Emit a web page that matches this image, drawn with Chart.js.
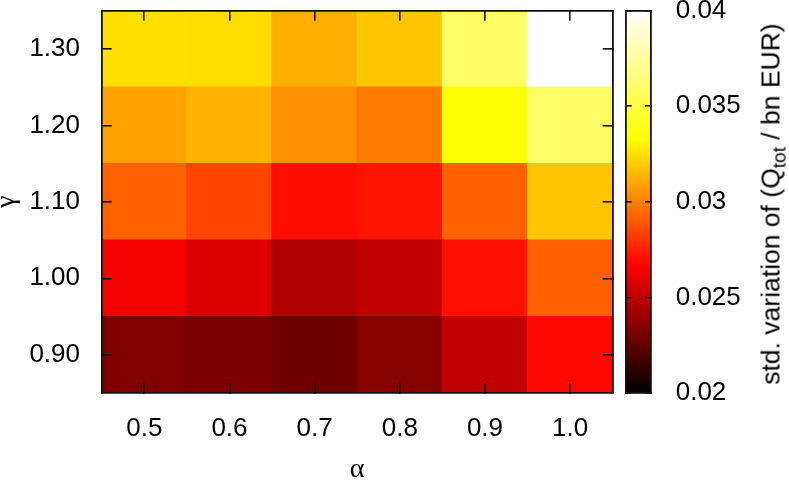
<!DOCTYPE html>
<html lang="en">
<head>
    <meta charset="UTF-8">
    <title>std. variation of Q_tot</title>
    <script src="https://cdn.jsdelivr.net/npm/chart.js"></script>
    <style>
        body {
            margin: 0;
            background: #fff;
            overflow: hidden;
        }
        .wrap {
            position: relative;
            width: 789px;
            height: 481px;
        }
        #heatmap {
            position: absolute;
            left: 0;
            top: 0;
        }
        #colorbar {
            position: absolute;
            left: 600px;
            top: 0;
        }
        .cb-title {
            position: absolute;
            left: 771px;
            top: 204px;
            font: 26.5px "Liberation Sans", Arial, sans-serif;
            color: #000;
            white-space: nowrap;
            transform: translate(-50%, -50%) rotate(-90deg);
        }
        .cb-title sub {
            font-size: 0.72em;
            line-height: 0;
        }
    </style>
</head>
<body>
    <div class="wrap">
        <canvas id="heatmap" width="789" height="481"></canvas>
        <canvas id="colorbar" width="189" height="481"></canvas>
        <div class="cb-title">std. variation of (Q<sub>tot</sub> / bn EUR)</div>
    </div>

    <script>
        // categories / tick labels
        const alpha = ['0.5', '0.6', '0.7', '0.8', '0.9', '1.0'];
        const gamma = [0.90, 1.00, 1.10, 1.20, 1.30];
        const cbTicks = [0.02, 0.025, 0.03, 0.035, 0.04];

        // std. variation of Q_tot (bn EUR), one row per gamma, columns follow alpha
        const gamma090 = [0.02335, 0.02327, 0.02293, 0.02353, 0.02502, 0.02688];
        const gamma100 = [0.02641, 0.02580, 0.02463, 0.02502, 0.02708, 0.02918];
        const gamma110 = [0.02918, 0.02847, 0.02700, 0.02716, 0.02918, 0.03182];
        const gamma120 = [0.03093, 0.03132, 0.03040, 0.02988, 0.03340, 0.03600];
        const gamma130 = [0.03250, 0.03245, 0.03124, 0.03182, 0.03600, 0.04000];
        const rows = [gamma090, gamma100, gamma110, gamma120, gamma130];

        const cbMin = cbTicks[0];
        const cbMax = cbTicks[cbTicks.length - 1];

        // gnuplot "hot" palette (rgbformulae 21,22,23)
        function clamp01(v) {
            return Math.max(0, Math.min(1, v));
        }
        function hot(v) {
            const x = clamp01((v - cbMin) / (cbMax - cbMin));
            const r = Math.round(255 * clamp01(3 * x));
            const g = Math.round(255 * clamp01(3 * x - 1));
            const b = Math.round(255 * clamp01(3 * x - 2));
            return 'rgb(' + r + ',' + g + ',' + b + ')';
        }

        const tickFont = { family: '"Liberation Sans", Arial, sans-serif', size: 26 };
        const greekFont = { family: '"Liberation Serif", "Times New Roman", serif', size: 28 };

        // tick marks pointing into the plot, drawn above the cells
        function inwardGrid(len) {
            return {
                offset: false,
                drawOnChartArea: false,
                drawTicks: true,
                tickLength: -len,
                color: '#111',
                lineWidth: 1.6,
                z: 1
            };
        }
        const frame = { display: true, color: '#111', width: 1.8, z: 1 };

        // fixed axis sizes, no extra padding for label overflow
        function fixW(w) {
            return function (s) {
                s.width = w;
                s.paddingTop = 0;
                s.paddingBottom = 0;
            };
        }
        function fixH(h) {
            return function (s) {
                s.height = h;
                s.paddingLeft = 0;
                s.paddingRight = 0;
            };
        }

        // one floating-bar dataset per gamma row
        const datasets = gamma.map(function (g, j) {
            return {
                data: alpha.map(function () { return [g - 0.05, g + 0.05]; }),
                backgroundColor: rows[j].map(hot),
                borderWidth: 0,
                inflateAmount: 0.6,
                barPercentage: 1,
                categoryPercentage: 1,
                grouped: false,
                xAxisID: 'x',
                yAxisID: 'y'
            };
        });

        function gammaTicks(scale) {
            scale.ticks = gamma.map(function (v) { return { value: v }; });
        }

        new Chart(document.getElementById('heatmap'), {
            type: 'bar',
            data: { labels: alpha, datasets: datasets },
            options: {
                responsive: false,
                animation: false,
                events: [],
                layout: { padding: { left: 0, top: 10.7, right: 176.3, bottom: 0 } },
                plugins: { legend: { display: false }, tooltip: { enabled: false } },
                scales: {
                    x: {
                        type: 'category',
                        position: 'bottom',
                        offset: true,
                        grid: inwardGrid(10),
                        border: frame,
                        ticks: { color: '#000', font: tickFont, padding: 30, maxRotation: 0, autoSkip: false },
                        title: { display: true, text: 'α', color: '#000', font: Object.assign({}, greekFont, { lineHeight: 0.8 }), padding: 0 },
                        afterFit: fixH(88)
                    },
                    x2: {
                        type: 'category',
                        position: 'top',
                        offset: true,
                        grid: inwardGrid(10),
                        border: frame,
                        ticks: { display: false },
                        afterFit: fixH(0)
                    },
                    y: {
                        type: 'linear',
                        position: 'left',
                        min: 0.85,
                        max: 1.35,
                        afterBuildTicks: gammaTicks,
                        grid: inwardGrid(10),
                        border: frame,
                        ticks: {
                            color: '#000',
                            font: tickFont,
                            padding: 31.7,
                            callback: function (v) { return Number(v).toFixed(2); }
                        },
                        title: { display: true, text: 'γ', color: '#000', font: Object.assign({}, greekFont, { lineHeight: 0.44 }), padding: 0 },
                        afterFit: fixW(101.7)
                    },
                    y2: {
                        type: 'linear',
                        position: 'right',
                        min: 0.85,
                        max: 1.35,
                        afterBuildTicks: gammaTicks,
                        grid: inwardGrid(10),
                        border: frame,
                        ticks: { display: false },
                        afterFit: fixW(0)
                    }
                }
            }
        });

        // colour box
        function cbGradient(ctx) {
            const chart = ctx.chart;
            if (!chart.chartArea) {
                return null;
            }
            const ys = chart.scales.y;
            const grad = chart.ctx.createLinearGradient(0, ys.getPixelForValue(cbMin), 0, ys.getPixelForValue(cbMax));
            [0, 1 / 3, 2 / 3, 1].forEach(function (t) {
                grad.addColorStop(t, hot(cbMin + t * (cbMax - cbMin)));
            });
            return grad;
        }

        function cbTickList(scale) {
            scale.ticks = cbTicks.map(function (v) { return { value: v }; });
        }

        const cbEdge = { drawOnChartArea: false, drawTicks: false, color: '#111', z: 1 };

        new Chart(document.getElementById('colorbar'), {
            type: 'bar',
            data: {
                labels: ['cb'],
                datasets: [{
                    data: [[cbMin, cbMax]],
                    backgroundColor: cbGradient,
                    borderWidth: 0,
                    barPercentage: 1,
                    categoryPercentage: 1,
                    yAxisID: 'y'
                }]
            },
            options: {
                responsive: false,
                animation: false,
                events: [],
                layout: { padding: { left: 25.7, top: 10.7, right: 0, bottom: 88 } },
                plugins: { legend: { display: false }, tooltip: { enabled: false } },
                scales: {
                    x: {
                        type: 'category',
                        position: 'bottom',
                        grid: cbEdge,
                        border: frame,
                        ticks: { display: false },
                        afterFit: fixH(0)
                    },
                    x2: {
                        type: 'category',
                        position: 'top',
                        grid: cbEdge,
                        border: frame,
                        ticks: { display: false },
                        afterFit: fixH(0)
                    },
                    y: {
                        type: 'linear',
                        position: 'right',
                        min: cbMin,
                        max: cbMax,
                        afterBuildTicks: cbTickList,
                        grid: inwardGrid(6),
                        border: frame,
                        ticks: {
                            color: '#000',
                            font: tickFont,
                            padding: 30.7,
                            callback: function (v) { return String(Number(Number(v).toFixed(3))); }
                        },
                        afterFit: fixW(138)
                    },
                    y2: {
                        type: 'linear',
                        position: 'left',
                        min: cbMin,
                        max: cbMax,
                        afterBuildTicks: cbTickList,
                        grid: inwardGrid(6),
                        border: frame,
                        ticks: { display: false },
                        afterFit: fixW(0)
                    }
                }
            }
        });
    </script>
</body>
</html>
